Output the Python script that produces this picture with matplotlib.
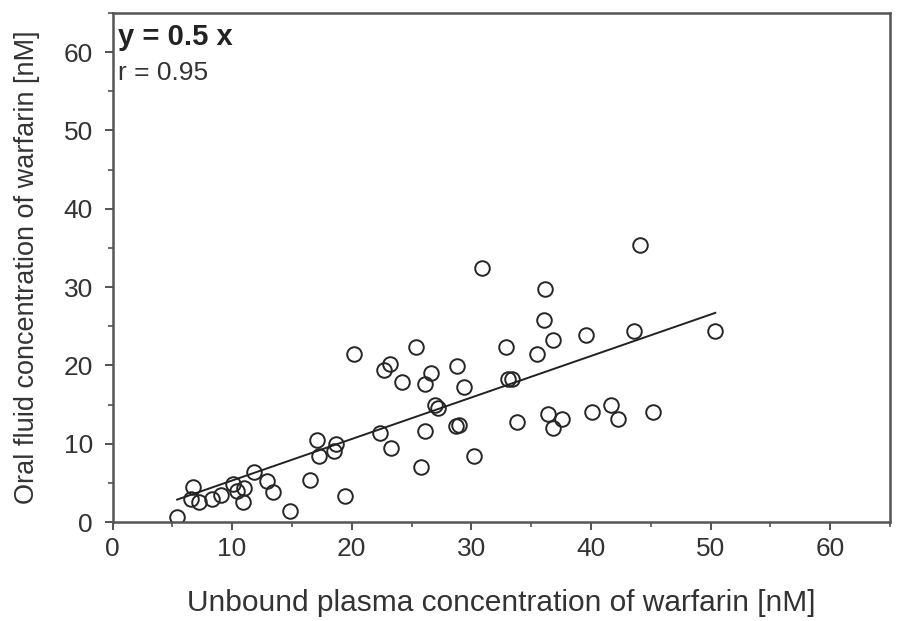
import matplotlib
matplotlib.use("Agg")
import matplotlib.pyplot as plt
import numpy as np
from matplotlib.ticker import MultipleLocator

plt.rcParams["font.family"] = ["Liberation Sans", "DejaVu Sans"]

# unbound plasma vs oral fluid warfarin concentrations (nM)
plasma = [5.4, 6.7, 6.6, 7.2, 8.3, 9.1, 10.1, 10.4, 11.0, 10.9,
          11.8, 12.9, 13.4, 14.8, 16.5, 17.1, 17.3, 18.5, 18.7, 19.4,
          20.2, 22.4, 22.7, 23.2, 23.3, 24.2, 25.35, 25.8, 26.1, 26.1,
          26.6, 27.0, 27.2, 28.8, 28.7, 29.0, 29.4, 30.2, 30.9, 32.9,
          33.1, 33.4, 33.8, 35.5, 36.05, 36.2, 36.4, 36.8, 36.8, 37.6,
          39.6, 40.1, 41.7, 42.3, 43.6, 44.1, 45.2, 50.4]
oral = [0.7, 4.5, 2.9, 2.6, 2.9, 3.5, 4.9, 4.0, 4.4, 2.5,
        6.4, 5.3, 3.8, 1.4, 5.4, 10.5, 8.4, 9.1, 10.0, 3.3,
        21.4, 11.4, 19.4, 20.2, 9.5, 17.9, 22.3, 7.0, 11.6, 17.6,
        19.0, 14.9, 14.6, 19.9, 12.2, 12.4, 17.3, 8.4, 32.4, 22.3,
        18.3, 18.3, 12.8, 21.4, 25.8, 29.7, 13.8, 23.3, 12.0, 13.2,
        23.9, 14.1, 15.0, 13.1, 24.4, 35.4, 14.1, 24.4]

slope = 0.53
r_value = 0.95

fig = plt.figure(figsize=(8.98, 6.21), dpi=100)
ax = fig.add_axes([0.1253, 0.1594, 0.8657, 0.8196])

ax.plot(plasma, oral, "o", markersize=10.5, markerfacecolor="none",
        markeredgecolor="#262626", markeredgewidth=1.4)

# regression line through the origin over the data range
xs = np.array([min(plasma), max(plasma)])
ax.plot(xs, slope * xs, color="#222222", linewidth=1.4)

ax.set_xlim(0, 65)
ax.set_ylim(0, 65)
ax.xaxis.set_major_locator(MultipleLocator(10))
ax.xaxis.set_minor_locator(MultipleLocator(5))
ax.yaxis.set_major_locator(MultipleLocator(10))
ax.yaxis.set_minor_locator(MultipleLocator(5))

for s in ax.spines.values():
    s.set_color("#555555")
    s.set_linewidth(1.8)

ax.tick_params(which="major", direction="out", length=6, width=1.3,
               color="#444444", labelsize=19, labelcolor="#333333")
ax.tick_params(axis="y", which="major", pad=8)
ax.tick_params(axis="x", which="major", pad=5)
ax.tick_params(which="minor", direction="out", length=3.5, width=1.1,
               color="#444444")

ax.set_xlabel("Unbound plasma concentration of warfarin [nM]",
              fontsize=21.5, color="#333333")
ax.set_ylabel("Oral fluid concentration of warfarin [nM]",
              fontsize=19.5, color="#333333")
ax.xaxis.set_label_coords(0.5, -0.16)
ax.yaxis.set_label_coords(-0.11, 0.5)
ax.xaxis.label.set_va("center")
ax.yaxis.label.set_va("center")

ax.text(0.007, 0.98, f"y = {slope:.1f} x", transform=ax.transAxes,
        fontsize=21, fontweight="bold", color="#222222", va="top")
ax.text(0.007, 0.905, f"r = {r_value:.2f}", transform=ax.transAxes,
        fontsize=19, color="#333333", va="top")

fig.savefig("out.png", dpi=100)
